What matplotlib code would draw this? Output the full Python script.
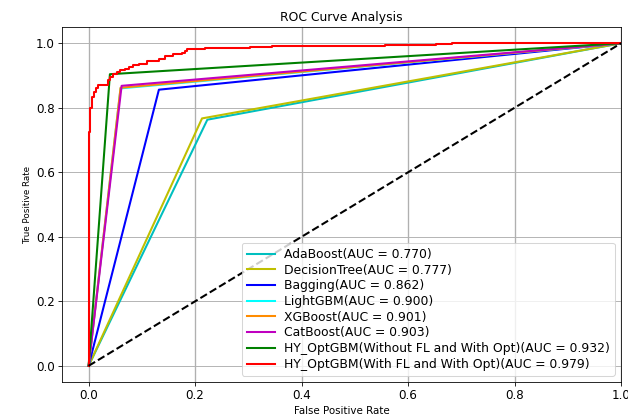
import matplotlib
matplotlib.use('Agg')
import matplotlib.pyplot as plt

# single-threshold models: (fpr, tpr) of the one operating point
names = ['AdaBoost', 'DecisionTree', 'Bagging', 'LightGBM', 'XGBoost', 'CatBoost',
         'HY_OptGBM(Without FL and With Opt)']
colors = ['c', 'y', 'b', 'cyan', 'darkorange', 'm', 'g']
fpr_pts = [0.223, 0.213, 0.132, 0.060, 0.060, 0.062, 0.040]
tpr_pts = [0.763, 0.767, 0.856, 0.860, 0.862, 0.868, 0.904]
aucs = [0.770, 0.777, 0.862, 0.900, 0.901, 0.903, 0.932]

# stepped curve for the final model
red_name = 'HY_OptGBM(With FL and With Opt)'
red_auc = 0.979
red_fx = [0.0, 0.0025, 0.006, 0.010, 0.013, 0.018, 0.037, 0.041, 0.0465, 0.053,
          0.059, 0.068, 0.075, 0.084, 0.094, 0.109, 0.132, 0.143, 0.159, 0.175,
          0.181, 0.184, 0.218, 0.303, 0.344, 0.557, 0.652, 0.683, 1.0]
red_ty = [0.725, 0.800, 0.832, 0.848, 0.860, 0.872, 0.885, 0.896, 0.906, 0.911,
          0.916, 0.921, 0.927, 0.932, 0.937, 0.945, 0.950, 0.960, 0.966, 0.970,
          0.976, 0.981, 0.984, 0.987, 0.990, 0.994, 0.997, 1.0, 1.0]

DPI = 74
fig = plt.figure(figsize=(628 / DPI, 417 / DPI), dpi=DPI)
ax = fig.add_axes([0.0987, 0.0840, 0.8903, 0.8510])

for n, c, f, t, a in zip(names, colors, fpr_pts, tpr_pts, aucs):
    ax.plot([0, f, 1], [0, t, 1], color=c, lw=2, label=f'{n}(AUC = {a:.3f})')

# build the step path: go up first, then across
xs, ys = [0.0], [0.0]
for f, t in zip(red_fx, red_ty):
    xs += [f, f]
    ys += [ys[-1], t]
ax.plot(xs, ys, color='r', lw=2, label=f'{red_name}(AUC = {red_auc:.3f})')

ax.plot([0, 1], [0, 1], 'k--', lw=2)

ax.set_xlim(-0.05, 1.0)
ax.set_ylim(-0.05, 1.05)
ax.set_xlabel('False Positive Rate', fontsize=10)
ax.set_ylabel('True Positive Rate', fontsize=8.5)
ax.set_title('ROC Curve Analysis', fontsize=12)
ax.tick_params(labelsize=11.5)
ax.xaxis.grid(True, lw=1.3)
ax.yaxis.grid(True, lw=0.9)
ax.legend(loc='lower right', fontsize=12, labelspacing=0.22, handlelength=2.3,
          handletextpad=0.75)

fig.savefig('out.png', dpi=DPI)
